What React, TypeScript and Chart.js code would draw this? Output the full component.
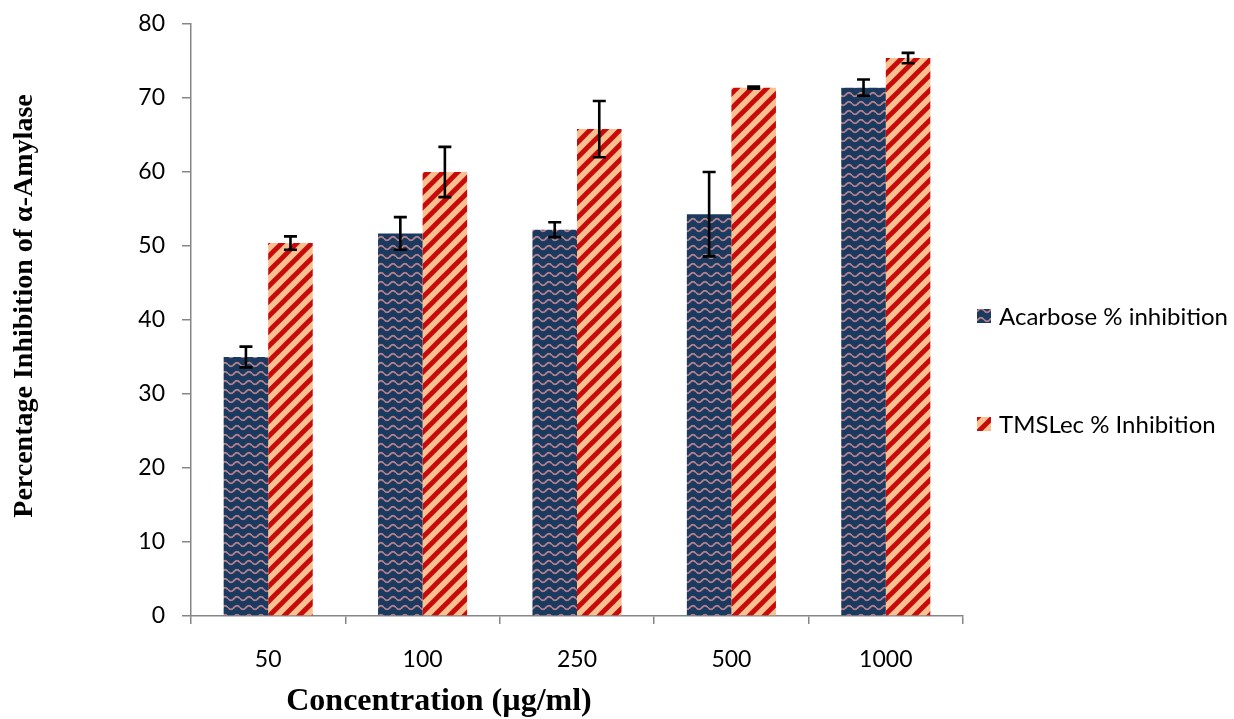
import React, { useEffect, useRef } from "react";
import { Chart, registerables } from "chart.js";

Chart.register(...registerables);

const categories = ["50", "100", "250", "500", "1000"];
const acarboseValues = [35.0, 51.7, 52.2, 54.3, 71.4];
const acarboseErrors = [1.4, 2.2, 1.0, 5.7, 1.1];
const tmslecValues = [50.4, 60.0, 65.8, 71.4, 75.4];
const tmslecErrors = [0.9, 3.4, 3.8, 0.15, 0.7];
const seriesNames = ["Acarbose % inhibition", "TMSLec % Inhibition"];
const xTitle = "Concentration (µg/ml)";
const yTitle = "Percentage Inhibition of α-Amylase";

function makeWavePattern(ctx: CanvasRenderingContext2D): CanvasPattern | string {
  const w = 12;
  const h = 9;
  const c = document.createElement("canvas");
  c.width = w;
  c.height = h;
  const g = c.getContext("2d");
  if (!g) return "#1B3A5F";
  g.fillStyle = "#1B3A5F";
  g.fillRect(0, 0, w, h);
  g.strokeStyle = "#B5808E";
  g.lineWidth = 1.8;
  g.beginPath();
  for (let x = 0; x <= w; x += 0.5) {
    const y = 4.5 + 1.8 * Math.sin((x / w) * Math.PI * 2);
    if (x === 0) g.moveTo(x, y);
    else g.lineTo(x, y);
  }
  g.stroke();
  return ctx.createPattern(c, "repeat") || "#1B3A5F";
}

function makeStripePattern(ctx: CanvasRenderingContext2D): CanvasPattern | string {
  const s = 15;
  const c = document.createElement("canvas");
  c.width = s;
  c.height = s;
  const g = c.getContext("2d");
  if (!g) return "#FAC090";
  g.fillStyle = "#FAC090";
  g.fillRect(0, 0, s, s);
  g.strokeStyle = "#C80A0A";
  g.lineWidth = 4.8;
  g.lineCap = "square";
  const seg = (x1: number, y1: number, x2: number, y2: number) => {
    g.beginPath();
    g.moveTo(x1, y1);
    g.lineTo(x2, y2);
    g.stroke();
  };
  seg(-2, s + 2, s + 2, -2);
  seg(-2, 2, 2, -2);
  seg(s - 2, s + 2, s + 2, s - 2);
  return ctx.createPattern(c, "repeat") || "#FAC090";
}

export default function App() {
  const ref = useRef<HTMLCanvasElement | null>(null);

  useEffect(() => {
    const canvas = ref.current;
    if (!canvas) return;
    const ctx = canvas.getContext("2d");
    if (!ctx) return;
    const wave = makeWavePattern(ctx);
    const stripes = makeStripePattern(ctx);
    const errors = [acarboseErrors, tmslecErrors];
    const fills = [wave, stripes];

    const errorBars = {
      id: "errorBars",
      afterDatasetsDraw(chart: any) {
        const c = chart.ctx;
        const y = chart.scales.y;
        c.save();
        c.strokeStyle = "#000";
        c.lineWidth = 2.6;
        chart.data.datasets.forEach((ds: any, di: number) => {
          const meta = chart.getDatasetMeta(di);
          meta.data.forEach((bar: any, i: number) => {
            const v = ds.data[i];
            const e = errors[di][i];
            const top = y.getPixelForValue(v + e);
            const bot = y.getPixelForValue(v - e);
            const x = bar.x;
            c.beginPath();
            c.moveTo(x, top);
            c.lineTo(x, bot);
            c.moveTo(x - 6.5, top);
            c.lineTo(x + 6.5, top);
            c.moveTo(x - 6.5, bot);
            c.lineTo(x + 6.5, bot);
            c.stroke();
          });
        });
        c.restore();
      },
    };

    const texts = {
      id: "texts",
      afterDraw(chart: any) {
        const c = chart.ctx;
        c.save();
        c.fillStyle = "#000";
        c.textAlign = "center";
        c.textBaseline = "middle";
        c.font = 'bold 32px "Liberation Serif"';
        c.fillText(xTitle, 439, 702);
        c.save();
        c.translate(25, 306);
        c.rotate(-Math.PI / 2);
        c.font = 'bold 28px "Liberation Serif"';
        c.fillText(yTitle, 0, 0);
        c.restore();
        c.textAlign = "left";
        c.font = '24px "Lato"';
        const ys = [316, 424];
        seriesNames.forEach((name, i) => {
          c.fillStyle = fills[i];
          c.fillRect(977, ys[i] - 7, 14, 14);
          c.fillStyle = "#000";
          c.fillText(name, 999, ys[i] + 1);
        });
        c.restore();
      },
    };

    const chart = new Chart(canvas, {
      type: "bar",
      data: {
        labels: categories,
        datasets: [
          {
            label: seriesNames[0],
            data: acarboseValues,
            backgroundColor: wave as any,
            categoryPercentage: 0.577,
            barPercentage: 1,
          },
          {
            label: seriesNames[1],
            data: tmslecValues,
            backgroundColor: stripes as any,
            categoryPercentage: 0.577,
            barPercentage: 1,
          },
        ],
      },
      options: {
        responsive: false,
        animation: false,
        layout: { padding: { left: 0, right: 271, top: 24, bottom: 0 } },
        plugins: {
          legend: { display: false },
          tooltip: { enabled: false },
        },
        scales: {
          x: {
            afterFit: (s: any) => {
              s.height = 103;
              s.paddingLeft = 0;
              s.paddingRight = 0;
            },
            grid: {
              offset: true,
              drawOnChartArea: false,
              drawTicks: true,
              tickLength: 8,
              color: "#868686",
              lineWidth: 1.5,
            },
            border: { color: "#868686", width: 1.5 },
            ticks: {
              color: "#000",
              font: { family: "Lato", size: 23 },
              padding: 22,
            },
          },
          y: {
            min: 0,
            max: 80,
            afterFit: (s: any) => {
              s.width = 191;
              s.paddingTop = 0;
              s.paddingBottom = 0;
            },
            grid: {
              drawOnChartArea: false,
              drawTicks: true,
              tickLength: 9,
              color: "#868686",
              lineWidth: 1.5,
            },
            border: { color: "#868686", width: 1.5 },
            ticks: {
              stepSize: 10,
              color: "#000",
              font: { family: "Lato", size: 23 },
              padding: 17,
            },
          },
        },
      },
      plugins: [errorBars, texts],
    });
    return () => chart.destroy();
  }, []);

  return (
    <div style={{ position: "fixed", left: 0, top: 0, width: 1234, height: 719, background: "#fff" }}>
      <canvas ref={ref} width={1234} height={719} />
    </div>
  );
}
